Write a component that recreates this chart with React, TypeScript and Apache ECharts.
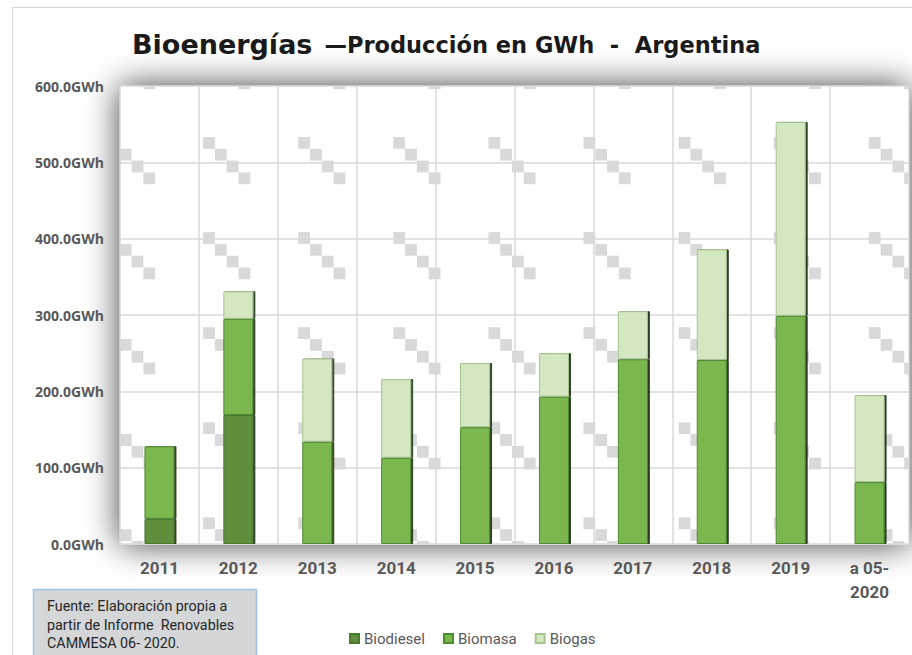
import React, { useEffect, useRef } from "react";
import * as echarts from "echarts";

const categories = ["2011", "2012", "2013", "2014", "2015", "2016", "2017", "2018", "2019", "a 05-\n2020"];
const biodiesel = [33, 169, 0, 0, 0, 0, 0, 0, 0, 0];
const biomasa = [95, 126, 134, 113, 153, 193, 242, 241, 299, 81];
const biogas = [0, 36, 109, 103, 84, 57, 63, 145, 254, 114];
const seriesNames = ["Biodiesel", "Biomasa", "Biogas"];
const sourceLines = ["Fuente: Elaboración propia a", "partir de Informe  Renovables", "CAMMESA 06- 2020."];

const W = 912;
const H = 655;
const G = { left: 120, top: 86, right: 3, bottom: 111 };

function buildPattern() {
  const x1 = G.left, y1 = G.top, x2 = W - G.right, y2 = H - G.bottom;
  const els: any[] = [];
  const step = 95.1, sq = 11.8;
  for (let gx = G.left - 12; gx < x2; gx += step) {
    for (let gy = G.top + 51 - step; gy < y2; gy += step) {
      for (let i = 0; i < 4; i++) {
        const sx = gx + i * sq, sy = gy + i * sq;
        const ax = Math.max(sx, x1), ay = Math.max(sy, y1);
        const bx = Math.min(sx + sq, x2), by = Math.min(sy + sq, y2);
        if (bx > ax && by > ay) {
          els.push({
            type: "rect",
            z: -5,
            silent: true,
            shape: { x: ax, y: ay, width: bx - ax, height: by - ay },
            style: { fill: "#d9d9d9" },
          });
        }
      }
    }
  }
  return els;
}

export default function App() {
  const ref = useRef<HTMLDivElement>(null);
  useEffect(() => {
    if (!ref.current) return;
    const chart = echarts.init(ref.current, null, { renderer: "svg" });
    const plotW = W - G.left - G.right;
    const plotH = H - G.top - G.bottom;
    const barStyle = (fill: string, border: string) => ({
      color: fill,
      borderColor: border,
      borderWidth: 1,
      shadowColor: "rgba(20,40,10,0.9)",
      shadowOffsetX: 2,
      shadowBlur: 1,
    });
    chart.setOption({
      animation: false,
      backgroundColor: "#ffffff",
      title: {
        text: "{a|Bioenergías}{s| }{b|—Producción en GWh  -  Argentina}",
        left: 127,
        top: 26,
        textStyle: {
          rich: {
            a: { fontFamily: "DejaVu Sans", fontWeight: "bold", fontSize: 27, color: "#1a1a1a" },
            s: { fontSize: 14, width: 12 },
            b: { fontFamily: "DejaVu Sans", fontWeight: "bold", fontSize: 22.5, color: "#1a1a1a" },
          },
        },
      },
      graphic: [
        {
          type: "rect",
          z: -20,
          silent: true,
          shape: { x: 12.5, y: 7.5, width: 920, height: 700 },
          style: { fill: "#ffffff", stroke: "#d9d9d9", lineWidth: 1 },
        },
        {
          type: "rect",
          z: -10,
          silent: true,
          shape: { x: G.left, y: G.top, width: plotW, height: plotH },
          style: { fill: "#ffffff", shadowBlur: 34, shadowColor: "rgba(0,0,0,0.78)" },
        },
        ...buildPattern(),
        {
          type: "rect",
          z: 5,
          silent: true,
          shape: { x: 33.5, y: 589.5, width: 223, height: 80 },
          style: { fill: "#d5d6d8", stroke: "#9dc3e6", lineWidth: 1.5 },
        },
        ...sourceLines.map((t, i) => ({
          type: "text",
          z: 6,
          silent: true,
          x: 47,
          y: 606 + i * 18.5,
          style: {
            text: t,
            fontFamily: "Roboto",
            fontSize: 14.3,
            fill: "#262626",
            verticalAlign: "middle",
          },
        })),
      ],
      legend: {
        data: seriesNames,
        left: 344,
        top: 626,
        icon: "rect",
        itemWidth: 9,
        itemHeight: 9,
        itemGap: 18,
        textStyle: { fontFamily: "Roboto", fontSize: 15, color: "#595959" },
      },
      grid: { left: G.left, top: G.top, right: G.right, bottom: G.bottom, containLabel: false },
      xAxis: {
        type: "category",
        data: categories,
        axisLine: { show: true, lineStyle: { color: "#d9d9d9", width: 1 } },
        axisTick: { show: false },
        splitLine: { show: true, lineStyle: { color: "#d9d9d9", width: 1.5 } },
        axisLabel: {
          margin: 12,
          fontFamily: "Roboto",
          fontWeight: "bold",
          fontSize: 17,
          color: "#595959",
          lineHeight: 24,
        },
      },
      yAxis: {
        type: "value",
        min: 0,
        max: 600,
        interval: 100,
        axisLine: { show: false },
        axisTick: { show: false },
        splitLine: { show: true, lineStyle: { color: "#d9d9d9", width: 1.5 } },
        axisLabel: {
          margin: 16,
          fontFamily: "Open Sans",
          fontWeight: "bold",
          fontSize: 14,
          color: "#595959",
          formatter: (v: number) => v.toFixed(1) + "GWh",
        },
      },
      series: [
        {
          name: seriesNames[0],
          type: "bar",
          stack: "total",
          barWidth: 30,
          data: biodiesel,
          itemStyle: barStyle("#5e8e3e", "#4a7a2e"),
        },
        {
          name: seriesNames[1],
          type: "bar",
          stack: "total",
          barWidth: 30,
          data: biomasa,
          itemStyle: barStyle("#7ab74f", "#4f8a30"),
        },
        {
          name: seriesNames[2],
          type: "bar",
          stack: "total",
          barWidth: 30,
          data: biogas,
          itemStyle: barStyle("#d3e7c1", "#a7c592"),
        },
      ],
    });
    return () => chart.dispose();
  }, []);
  return <div ref={ref} style={{ width: W, height: H, position: "absolute", left: 0, top: 0 }} />;
}
